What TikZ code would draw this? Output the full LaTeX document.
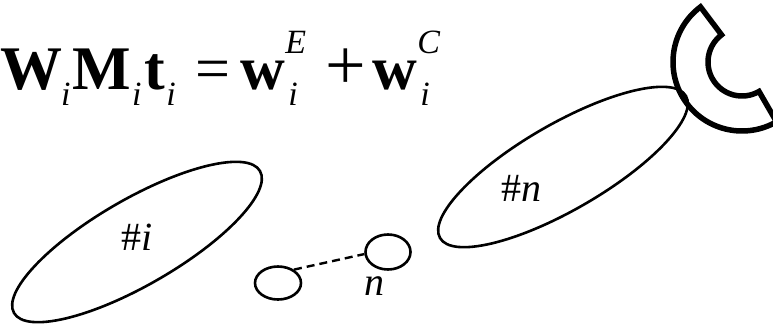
\documentclass[tikz,border=0pt]{standalone}
\usepackage{fontspec}
\setmainfont{Liberation Serif}
\usetikzlibrary{shapes.geometric}

\newcommand{\eqbig}{\fontsize{62}{62}\selectfont}
\newcommand{\eqsmall}{\fontsize{34}{34}\selectfont\mdseries\itshape}
\newcommand{\lowi}{\raisebox{-16pt}{\eqsmall i}}
\newcommand{\highsym}[1]{\makebox[0pt][l]{\raisebox{36pt}{\eqsmall #1}}}

\tikzset{
  blob/.style={draw, ellipse, line width=2.6pt, rotate=30, minimum width=284, minimum height=86, inner sep=0pt},
  dot/.style={draw, ellipse, line width=2.6pt, inner sep=0pt},
}

\begin{document}
\begin{tikzpicture}[x=1pt,y=1pt]
\useasboundingbox (0,0) rectangle (773,325);

\node[anchor=base west, inner sep=0pt] (eq) at (0,236) {\eqbig\bfseries W\kern-1pt\lowi\kern2pt M\kern1pt\lowi\kern3pt t\kern1pt\lowi\kern20pt\mdseries=\kern10pt\bfseries w\highsym{E}\kern3pt\lowi\kern28pt\mdseries{\fontsize{72}{72}\selectfont+}\kern6pt\bfseries w\highsym{C}\kern3pt\lowi};

\node[blob] (Ei) at (137,83) {};
\node[blob] (En) at (563,158) {};
\node[font=\fontsize{40}{40}\selectfont] (Li) at (137,88) {\#\textit{i}};
\node[font=\fontsize{40}{40}\selectfont] (Ln) at (521,137) {\#\textit{n}};

\node[dot, minimum width=46, minimum height=33] (S1) at (278,42) {};
\node[dot, minimum width=45, minimum height=35] (S2) at (388,73) {};
\draw[line width=2.4pt, dash pattern=on 8pt off 5pt] (S1.40) -- (S2.185);
\node[font=\fontsize{40}{40}\selectfont\itshape] (Ls) at (374,39) {n};

% crescent
\coordinate (moon) at (742,263);
\draw[line width=5.5pt, line join=miter] ([shift={(127:69)}]moon) arc[start angle=127, end angle=300, radius=69]
  -- ([shift={(300:34)}]moon) arc[start angle=300, end angle=127, radius=34] -- cycle;
\end{tikzpicture}
\end{document}
